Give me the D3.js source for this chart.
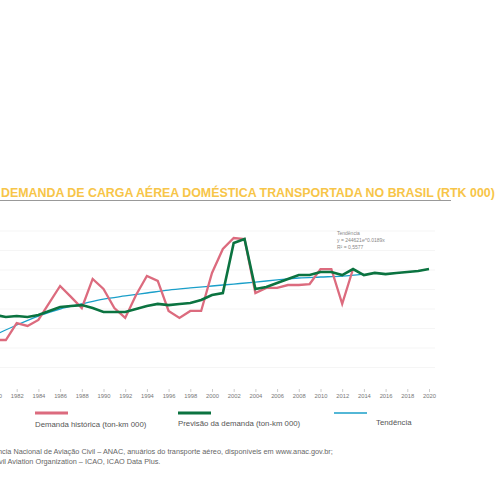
<!DOCTYPE html>
<html><head><meta charset="utf-8">
<script src="https://cdn.jsdelivr.net/npm/d3@7"></script>
<style>body{margin:0;background:#fff}svg{display:block}</style>
</head><body><svg width="500" height="500"></svg>
<script>
var years = d3.range(1980, 2021);
var historica = [241,241,328,313,344,431,518,462,405,554,503,405,354,472,569,544,390,354,390,390,585,708,764,759,482,508,508,523,523,528,605,605,426,605];
var previsao = [369,359,364,359,369,390,410,415,420,405,385,385,385,400,415,426,420,426,431,446,472,482,738,759,503,513,533,554,574,574,590,590,574,605,574,585,579,585,590,595,605];
var trendYears = [1980,1982,1984,1986,1988,1990,1992,1994,1996,1998,2000,2002,2004,2006,2008,2010,2012,2014];
var tendencia = [267,318,364,400,426,451,467,482,497,508,518,528,538,549,559,564,569,579];
var gridVals = [100,200,300,400,500,600,700,800];
var tickYears = d3.range(1980, 2021, 2);

var svg = d3.select('svg'),
    font = 'Liberation Sans, Arial, sans-serif';
var x = d3.scaleLinear().domain([1980, 2020]).range([-5, 429]);
var y = d3.scaleLinear().domain([0, 800]).range([387, 231]);

// title
svg.append('text').attr('x', 1).attr('y', 197).attr('font-family', font)
  .attr('font-weight', 'bold').attr('font-size', 12.4).attr('fill', '#f7c548')
  .text('DEMANDA DE CARGA AÉREA DOMÉSTICA TRANSPORTADA NO BRASIL (RTK 000)');
svg.append('line').attr('x1', 0).attr('x2', 451).attr('y1', 200.5).attr('y2', 200.5)
  .attr('stroke', '#999').attr('stroke-width', 1.2);

// grid
svg.selectAll('.grid').data(gridVals).enter().append('line')
  .attr('x1', 0).attr('x2', 435)
  .attr('y1', function(d){ return y(d); }).attr('y2', function(d){ return y(d); })
  .attr('stroke', '#eee').attr('stroke-width', 0.6);

// x axis
var xAxis = svg.append('g').attr('transform', 'translate(0,389)')
  .call(d3.axisBottom(x).tickValues(tickYears).tickFormat(d3.format('d')).tickSize(3).tickPadding(2));
xAxis.select('.domain').remove();
xAxis.selectAll('line').attr('stroke', '#ccc');
xAxis.selectAll('text').attr('font-family', font).attr('font-size', 5.8).attr('fill', '#777');

var line = d3.line().x(function(d){ return x(d[0]); }).y(function(d){ return y(d[1]); });

svg.append('path').datum(trendYears.map(function(yr, i){ return [yr, tendencia[i]]; }))
  .attr('d', line.curve(d3.curveMonotoneX)).attr('fill', 'none')
  .attr('stroke', '#1a9fc9').attr('stroke-width', 1.3);
line.curve(d3.curveLinear);
svg.append('path').datum(historica.map(function(v, i){ return [years[i], v]; }))
  .attr('d', line).attr('fill', 'none').attr('stroke', '#dc6b7e').attr('stroke-width', 2.3);
svg.append('path').datum(previsao.map(function(v, i){ return [years[i], v]; }))
  .attr('d', line).attr('fill', 'none').attr('stroke', '#0b7340').attr('stroke-width', 2.6);

// trend annotation
var ann = ['Tendência', 'y = 244621e^0.0189x', 'R² = 0,5577'];
svg.selectAll('.ann').data(ann).enter().append('text')
  .attr('x', 337).attr('y', function(d, i){ return 235 + i * 7; })
  .attr('font-family', font).attr('font-size', 5).attr('fill', '#888')
  .text(function(d){ return d; });

// legend
var legend = [
  {label: 'Demanda histórica (ton-km 000)', color: '#dc6b7e', x: 35, w: 3, ty: 427},
  {label: 'Previsão da demanda (ton-km 000)', color: '#0b7340', x: 178, w: 3, ty: 426},
  {label: 'Tendência', color: '#1a9fc9', x: 334, w: 1.3, ty: 425}
];
legend.forEach(function(l){
  svg.append('line').attr('x1', l.x).attr('x2', l.x + 33).attr('y1', 413).attr('y2', 413)
    .attr('stroke', l.color).attr('stroke-width', l.w);
  svg.append('text').attr('x', l.label === 'Tendência' ? 376 : l.x).attr('y', l.ty)
    .attr('font-family', font).attr('font-size', 7.8).attr('fill', '#555').text(l.label);
});

// sources
svg.append('text').attr('x', -15).attr('y', 454).attr('font-family', font).attr('font-size', 7.3).attr('fill', '#666')
  .text('Agência Nacional de Aviação Civil – ANAC, anuários do transporte aéreo, disponíveis em www.anac.gov.br;');
svg.append('text').attr('x', -50).attr('y', 464).attr('font-family', font).attr('font-size', 7.3).attr('fill', '#666')
  .text('International Civil Aviation Organization – ICAO, ICAO Data Plus.');
</script></body></html>
